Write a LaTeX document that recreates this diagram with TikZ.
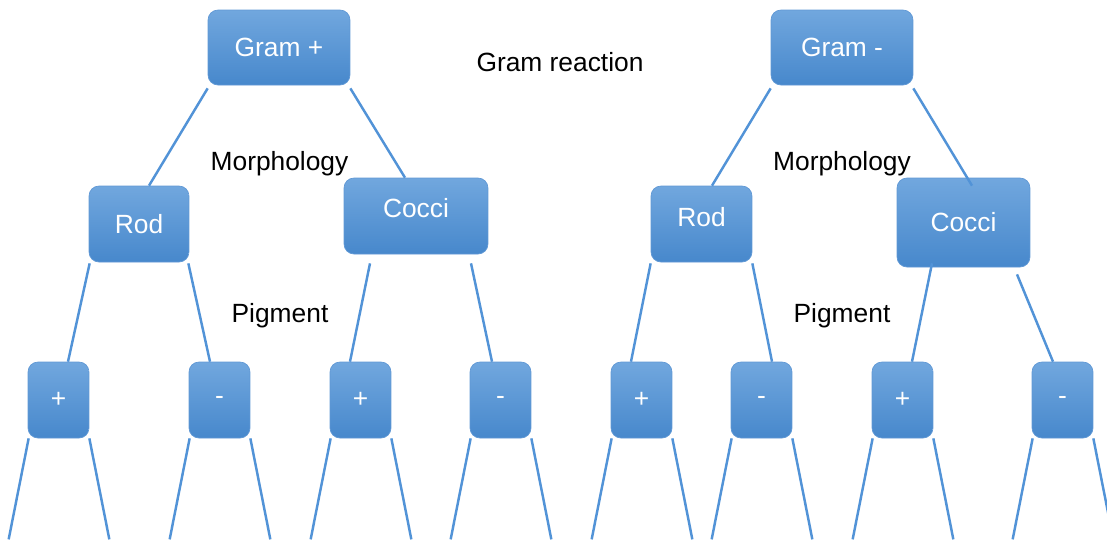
\documentclass[tikz,border=0pt]{standalone}
\usepackage{fontspec}
\setmainfont{Liberation Sans}
\usepackage{xcolor}
\usetikzlibrary{
    calc
}

\definecolor{boxtop}{RGB}{113,167,222}
\definecolor{boxbottom}{RGB}{71,136,204}
\definecolor{boxedge}{RGB}{96,152,213}
\definecolor{linkblue}{RGB}{82,147,215}

\begin{document}
\begin{tikzpicture}[
    x=0.02cm, y=-0.02cm,
    font=\fontsize{15}{18}\selectfont,
    box/.style={
        rectangle,
        rounded corners=0.2cm,
        draw=boxedge,
        line width=0.4pt,
        top color=boxtop,
        bottom color=boxbottom,
        text=white,
        align=center,
        inner sep=0pt
    },
    gram/.style={
        box,
        minimum width=2.84cm,
        minimum height=1.5cm
    },
    shape box/.style={
        box,
        minimum width=2.0cm,
        minimum height=1.52cm
    },
    pigbox/.style={
        box,
        minimum width=1.22cm,
        minimum height=1.52cm
    },
    lifted/.style={
        text depth=#1
    },
    link/.style={
        draw=linkblue,
        line width=1.4pt
    },
    level/.style={
        text=black
    }
]
\useasboundingbox (0,0) rectangle (1107,539);

% =========================================================
% Gram reaction
% =========================================================
\node[gram] (gramp) at (279,47.5) {Gram +};
\node[gram] (gramm) at (842,47.5) {Gram -};

\node[level] (gramlabel) at (560,62) {Gram reaction};

% =========================================================
% Morphology
% =========================================================
\node[shape box] (rodl) at (139,224) {Rod};
\node[shape box, minimum width=2.88cm, lifted=0.32cm] (coccil) at (416,216) {Cocci};
\node[shape box, minimum width=2.02cm, lifted=0.28cm] (rodr) at (701.5,224) {Rod};
\node[shape box, minimum width=2.66cm, minimum height=1.78cm] (coccir) at (963.5,222.5) {Cocci};

\node[level] (morphl) at (279.5,163.5) {Morphology};
\node[level] (morphr) at (842,163.5) {Morphology};

% =========================================================
% Pigment
% =========================================================
\node[pigbox] (rodlp) at (58.5,400) {+};
\node[pigbox] (rodlm) at (219.5,400) {-};
\node[pigbox] (coccilp) at (360.5,400) {+};
\node[pigbox] (coccilm) at (500.5,400) {-};
\node[pigbox] (rodrp) at (641.5,400) {+};
\node[pigbox] (rodrm) at (761.5,400) {-};
\node[pigbox] (coccirp) at (902.5,400) {+};
\node[pigbox] (coccirm) at (1062.5,400) {-};

\node[level] (pigl) at (280,315.5) {Pigment};
\node[level] (pigr) at (842,315.5) {Pigment};

% =========================================================
% Branches
% =========================================================
\draw[link] ($(gramp.south west)+(0,3)$) -- ($(rodl.north)+(10,0)$);
\draw[link] ($(gramp.south east)+(0,3)$) -- ($(coccil.north)+(-11,0)$);
\draw[link] ($(gramm.south west)+(0,3)$) -- ($(rodr.north)+(10.5,0)$);
\draw[link] ($(gramm.south east)+(0,3)$) -- ($(coccir.north)+(8.5,8)$);

\draw[link] ($(rodl.south west)+(1,1)$) -- ($(rodlp.north)+(9.5,0)$);
\draw[link] ($(rodl.south east)+(-1,1)$) -- ($(rodlm.north)+(-9.5,0)$);
\draw[link] ($(coccil.south)+(-46,9)$) -- ($(coccilp.north)+(-10.5,0)$);
\draw[link] ($(coccil.south)+(55,9)$) -- ($(coccilm.north)+(-8.5,0)$);
\draw[link] ($(rodr.south west)+(0,1)$) -- ($(rodrp.north)+(-10.5,0)$);
\draw[link] ($(rodr.south east)+(0,1)$) -- ($(rodrm.north)+(10.5,0)$);
\draw[link] ($(coccir.south)+(-31.5,-4)$) -- ($(coccirp.north)+(9.5,0)$);
\draw[link] ($(coccir.south)+(53.5,7)$) -- ($(coccirm.north)+(-9.5,0)$);

% open ends below the pigment boxes
\foreach \n in {rodlp,rodlm,coccilp,coccilm,rodrp,rodrm,coccirp,coccirm} {
    \coordinate (\n-l) at ($(\n.south west)+(-19,101)$);
    \coordinate (\n-r) at ($(\n.south east)+(20,101)$);
    \draw[link] ($(\n.south west)+(1,0)$) -- (\n-l);
    \draw[link] (\n.south east) -- (\n-r);
}

\end{tikzpicture}
\end{document}
